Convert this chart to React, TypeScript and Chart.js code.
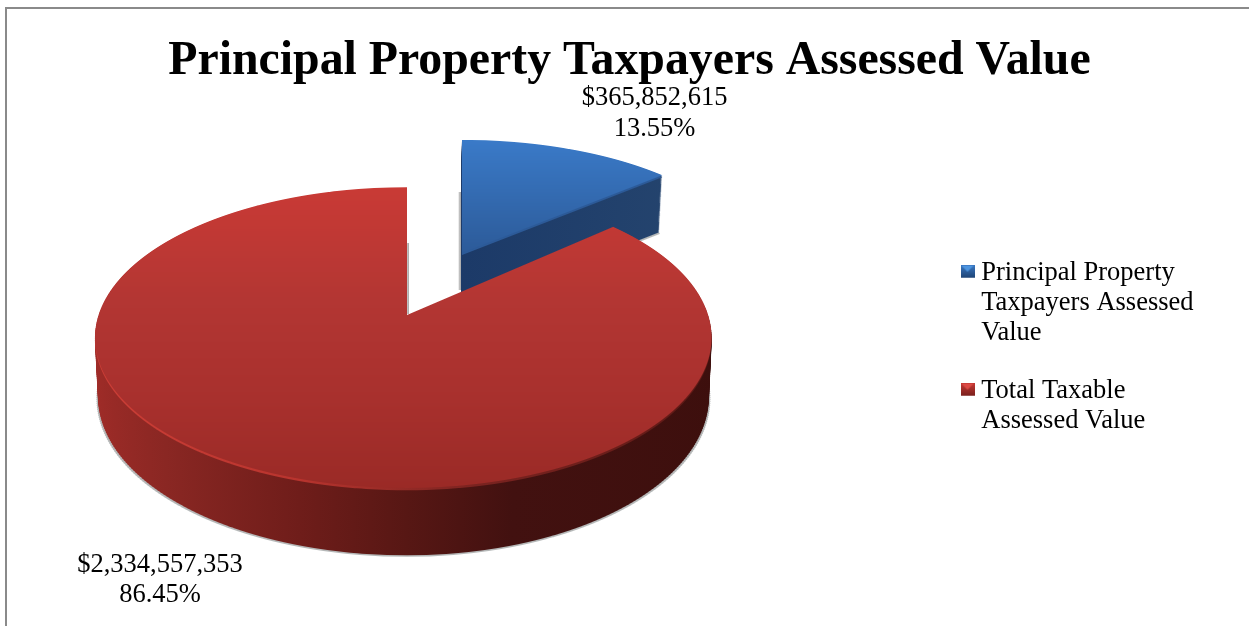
import React, { useEffect, useRef } from "react";
import { Chart, registerables } from "chart.js";

Chart.register(...registerables);

const categories = ["Principal Property Taxpayers Assessed Value", "Total Taxable Assessed Value"];
const assessedValues = [365852615, 2334557353];
const valueLabels = ["$365,852,615", "$2,334,557,353"];
const percentLabels = ["13.55%", "86.45%"];
const legendLines = [["Principal Property", "Taxpayers Assessed", "Value"], ["Total Taxable", "Assessed Value"]];
const chartTitle = "Principal Property Taxpayers Assessed Value";

const SERIF = '"Liberation Serif", "Times New Roman", serif';
const W = 1249;
const H = 626;

type Proj = { xc: number; yc: number; cR: number; k: number; su: number; sl: number; v0: number };

const lerp = (a: number, b: number, p: number) => a + (b - a) * p;
const lerpProj = (a: Proj, b: Proj, p: number): Proj => ({
  xc: lerp(a.xc, b.xc, p), yc: lerp(a.yc, b.yc, p), cR: lerp(a.cR, b.cR, p),
  k: lerp(a.k, b.k, p), su: lerp(a.su, b.su, p), sl: lerp(a.sl, b.sl, p), v0: lerp(a.v0, b.v0, p),
});

const slices = [
  {
    top: { xc: 462, yc: 315, cR: 147, k: 0.15, su: 1.02, sl: 1, v0: -137 },
    bottom: { xc: 461, yc: 372, cR: 147, k: 0.15, su: 1.01, sl: 1, v0: -137 },
    face: [[140, [58, 122, 200]], [255, [44, 90, 152]]],
    wall: [[0, "#1a3864"], [0.5, "#1c3a68"], [1, "#26466f"]],
    rim: [[0, "#2c5a98"], [1, "#2c5a98"]],
    layers: 60,
    strip: 1,
  },
  {
    top: { xc: 407, yc: 315, cR: 147, k: 0.15, su: 0.989, sl: 1.013, v0: 0 },
    bottom: { xc: 407, yc: 373, cR: 155, k: 0.15, su: 0.98, sl: 1.003, v0: 0 },
    face: [[187, [201, 58, 53]], [300, [179, 54, 51]], [400, [168, 48, 45]], [488, [154, 42, 38]]],
    wall: [[0, "#a02c28"], [0.15, "#8a2723"], [0.35, "#6f1d1a"], [0.5, "#571714"], [0.65, "#421110"], [1, "#3d0f0d"]],
    rim: [[0, "#d04038"], [0.35, "#b8342e"], [0.6, "#7a2320"], [1, "#5a1814"]],
    layers: 48,
    strip: 2,
  },
] as any[];

function faceColor(stops: any[], y: number) {
  if (y <= stops[0][0]) return `rgb(${stops[0][1].join(",")})`;
  for (let i = 1; i < stops.length; i++) {
    if (y <= stops[i][0]) {
      const p = (y - stops[i - 1][0]) / (stops[i][0] - stops[i - 1][0]);
      const c = stops[i][1].map((v: number, j: number) => Math.round(lerp(stops[i - 1][1][j], v, p)));
      return `rgb(${c.join(",")})`;
    }
  }
  return `rgb(${stops[stops.length - 1][1].join(",")})`;
}

function withFill(el: any, fill: any, fn: () => void) {
  const saved = el.options;
  el.options = Object.create(saved, {
    backgroundColor: { value: fill },
    borderWidth: { value: 0 },
    borderColor: { value: "transparent" },
  });
  fn();
  el.options = saved;
}

// Draw a library arc element through a perspective projection, one horizontal strip at a time.
function drawProjected(ctx: any, el: any, P: Proj, fill: any, strip: number) {
  const R = el.outerRadius;
  const screenY = (t: number) => P.yc + (P.cR * t) / (1 - P.k * t);
  const yMin = Math.floor(screenY((-R + P.v0) / R));
  const yMax = Math.ceil(screenY((R + P.v0) / R));
  const xMid = Math.round(P.xc);
  for (let y0 = yMin; y0 < yMax; y0 += strip) {
    const ym = y0 + strip / 2;
    const dy = ym - P.yc;
    const t = dy / (P.cR + P.k * dy);
    const s = 1 / (1 - P.k * t);
    const dydv = (P.cR * s * s) / R;
    const py0 = el.y + t * R - P.v0;
    const f = typeof fill === "function" ? fill(ym) : fill;
    const parts = P.sl === P.su ? [[0, W, P.su]] : [[0, xMid, P.sl], [xMid, W - xMid, P.su]];
    parts.forEach(([cx, cw, scale]) => {
      ctx.save();
      ctx.beginPath();
      ctx.rect(cx, y0, cw, strip);
      ctx.clip();
      ctx.setTransform(s * scale, 0, 0, dydv, P.xc - s * scale * el.x, ym - py0 * dydv);
      withFill(el, f, () => el.draw(ctx));
      ctx.restore();
    });
  }
}

function horizontalGradient(ctx: any, el: any, stops: any[]) {
  const R = el.outerRadius;
  const g = ctx.createLinearGradient(el.x - R, 0, el.x + R, 0);
  stops.forEach(([o, c]: any) => g.addColorStop(o, c));
  return g;
}

function cutShadow(ctx: any, x: number, y0: number, y1: number) {
  const g = ctx.createLinearGradient(x, 0, x + 3, 0);
  g.addColorStop(0, "rgba(170,170,170,0)");
  g.addColorStop(0.6, "rgba(150,150,150,0.75)");
  g.addColorStop(1, "rgba(150,150,150,0.75)");
  ctx.fillStyle = g;
  ctx.fillRect(x, y0, 3, y1 - y0);
}

const perspectivePie = {
  id: "perspectivePie",
  beforeDraw(chart: any) {
    const ctx = chart.ctx;
    ctx.save();
    ctx.fillStyle = "#ffffff";
    ctx.fillRect(0, 0, W, H);
    ctx.fillStyle = "#8a8a8a";
    ctx.fillRect(5, 7, 2, H - 7);
    ctx.fillRect(5, 7, W - 5, 2);
    ctx.restore();
  },
  afterLayout(chart: any) {
    chart.titleBlock.left = 10;
    chart.titleBlock.right = W;
    const lg = chart.legend;
    const h = lg.height;
    const w = lg.width;
    lg.left = 967 - 28;
    lg.right = lg.left + w;
    lg.top = 260 - 28;
    lg.bottom = lg.top + h;
  },
  beforeDatasetDraw(chart: any) {
    const ctx = chart.ctx;
    const arcs = chart.getDatasetMeta(0).data;
    cutShadow(ctx, 458, 192, 290);
    cutShadow(ctx, 406, 243, 314);
    slices.forEach((sl, i) => {
      const el = arcs[i];
      const shadow = { ...sl.bottom, yc: sl.bottom.yc + 1.5, su: sl.bottom.su * 1.005, sl: sl.bottom.sl * 1.005 };
      drawProjected(ctx, el, shadow, "rgba(120,125,125,0.55)", sl.strip);
      const wall = horizontalGradient(ctx, el, sl.wall);
      for (let n = sl.layers; n >= 1; n--) {
        drawProjected(ctx, el, lerpProj(sl.top, sl.bottom, n / sl.layers), wall, sl.strip);
      }
      drawProjected(ctx, el, lerpProj(sl.top, sl.bottom, 0.035), horizontalGradient(ctx, el, sl.rim), 1);
      drawProjected(ctx, el, sl.top, (y: number) => faceColor(sl.face, y), 1);
    });
    return false;
  },
  afterDraw(chart: any) {
    const ctx = chart.ctx;
    ctx.save();
    ctx.fillStyle = "#000000";
    ctx.font = `26.5px ${SERIF}`;
    ctx.textAlign = "center";
    ctx.textBaseline = "middle";
    const spots = [[654.5, 98, 129], [160, 565, 595]];
    valueLabels.forEach((txt, i) => {
      ctx.fillText(txt, spots[i][0], spots[i][1]);
      ctx.fillText(percentLabels[i], spots[i][0], spots[i][2]);
    });
    ctx.restore();
  },
};

function makeSwatch(top: string, bottom: string, light: string) {
  const c = document.createElement("canvas");
  c.width = 14;
  c.height = 17;
  const x = c.getContext("2d") as CanvasRenderingContext2D;
  const g = x.createLinearGradient(0, 0, 0, 13);
  g.addColorStop(0, top);
  g.addColorStop(1, bottom);
  x.fillStyle = g;
  x.fillRect(0, 0, 14, 13);
  x.fillStyle = light;
  x.beginPath();
  x.moveTo(1, 1);
  x.lineTo(13, 1);
  x.lineTo(7, 7);
  x.closePath();
  x.fill();
  return c;
}

export default function App() {
  const ref = useRef<HTMLCanvasElement | null>(null);
  useEffect(() => {
    if (!ref.current) return;
    const swatches = [makeSwatch("#3a78c4", "#1f4476", "#4d95e0"), makeSwatch("#c83a35", "#7a201d", "#dc4a44")];
    const chart = new Chart(ref.current, {
      type: "pie",
      data: {
        labels: categories,
        datasets: [{ data: assessedValues, backgroundColor: ["#3a78c4", "#b33633"], borderWidth: 0 }],
      },
      options: {
        responsive: false,
        animation: false,
        devicePixelRatio: 1,
        radius: 304.5,
        plugins: {
          tooltip: { enabled: false },
          title: {
            display: true,
            text: chartTitle,
            color: "#000000",
            font: { family: SERIF, size: 47.8, weight: "bold", lineHeight: 1.15 },
            padding: { top: 34, bottom: 10 },
          },
          legend: {
            display: true,
            position: "right",
            align: "start",
            labels: {
              color: "#000000",
              font: { family: SERIF, size: 26.5, lineHeight: 30 / 26.5 },
              usePointStyle: true,
              boxWidth: 1,
              boxHeight: 13,
              padding: 28,
              generateLabels: () =>
                legendLines.map((text, i) => ({
                  text,
                  pointStyle: swatches[i],
                  fillStyle: "transparent",
                  lineWidth: 0,
                  hidden: false,
                  index: i,
                })),
            },
          },
        },
      } as any,
      plugins: [perspectivePie],
    } as any);
    return () => chart.destroy();
  }, []);
  return (
    <div style={{ position: "fixed", left: 0, top: 0, width: W, height: H, background: "#fff" }}>
      <canvas ref={ref} width={W} height={H} style={{ display: "block" }} />
    </div>
  );
}
